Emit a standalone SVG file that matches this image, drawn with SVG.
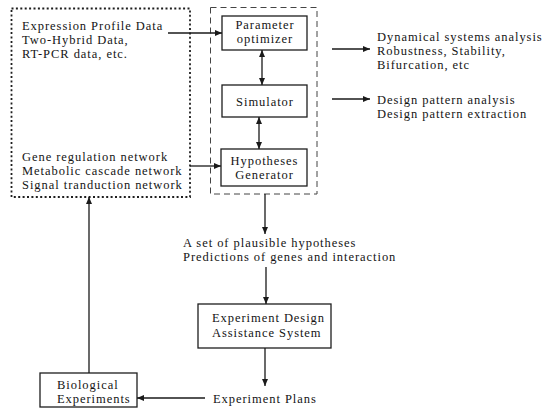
<svg xmlns="http://www.w3.org/2000/svg" width="547" height="409" viewBox="0 0 547 409">
<defs>
<marker id="ah" markerWidth="8" markerHeight="6" refX="7" refY="3" orient="auto-start-reverse" markerUnits="userSpaceOnUse">
<path d="M0,0 L7,3 L0,6 z" fill="#1a1a1a"/>
</marker>
<style>
text{font-family:"Liberation Serif","Times New Roman",serif;font-size:12.5px;letter-spacing:0.95px;fill:#141414}
.box{fill:#fff;stroke:#1e1e1e;stroke-width:1.3}
.dot{fill:none;stroke:#1e1e1e;stroke-width:1.8;stroke-dasharray:2 2.4}
.dash{fill:none;stroke:#444;stroke-width:1;stroke-dasharray:6 4}
.ln{fill:none;stroke:#1a1a1a;stroke-width:1.3;marker-end:url(#ah)}
.dbl{marker-start:url(#ah)}
.c{text-anchor:middle}
</style>
</defs>
<rect width="547" height="409" fill="#fff"/>

<g id="data-box">
<rect class="dot" x="11.5" y="8.5" width="178.5" height="188.5"/>
<text x="22" y="30">Expression Profile Data</text>
<text x="22" y="44">Two-Hybrid Data,</text>
<text x="22" y="58">RT-PCR data, etc.</text>
<text x="22" y="161">Gene regulation network</text>
<text x="22" y="175">Metabolic cascade network</text>
<text x="22" y="189">Signal tranduction network</text>
</g>

<g id="core-box">
<rect class="dash" x="210.5" y="7.5" width="106.5" height="186.5"/>
</g>

<g id="parameter-optimizer">
<rect class="box" x="222" y="16" width="85" height="34"/>
<text class="c" x="265" y="29">Parameter</text>
<text class="c" x="265" y="43">optimizer</text>
</g>

<g id="simulator">
<rect class="box" x="222" y="85" width="85" height="32"/>
<text class="c" x="265" y="106">Simulator</text>
</g>

<g id="hypotheses-generator">
<rect class="box" x="221" y="149" width="86" height="37"/>
<text class="c" x="264.5" y="164.5">Hypotheses</text>
<text class="c" x="264.5" y="178.5">Generator</text>
</g>

<g id="dynamical-analysis">
<text x="377" y="41">Dynamical systems analysis</text>
<text x="377" y="55">Robustness, Stability,</text>
<text x="377" y="69">Bifurcation, etc</text>
</g>

<g id="design-pattern">
<text x="377" y="104">Design pattern analysis</text>
<text x="377" y="118">Design pattern extraction</text>
</g>

<g id="hypotheses-output">
<text x="183" y="247">A set of plausible hypotheses</text>
<text x="183" y="261">Predictions of genes and interaction</text>
</g>

<g id="experiment-design">
<rect class="box" x="198" y="304" width="133" height="44"/>
<text x="212" y="322">Experiment Design</text>
<text x="212" y="337">Assistance System</text>
</g>

<g id="experiment-plans">
<text x="213" y="403">Experiment Plans</text>
</g>

<g id="biological-experiments">
<rect class="box" x="40" y="373" width="97" height="34"/>
<text x="57" y="389">Biological</text>
<text x="57" y="403">Experiments</text>
</g>

<g id="connectors">
<path class="ln" d="M168,33 H222"/>
<path class="ln" d="M190,166 H221"/>
<path class="ln dbl" d="M262,50 V85"/>
<path class="ln dbl" d="M259,117 V149"/>
<path class="ln" d="M332,49 H370"/>
<path class="ln" d="M332,99 H370"/>
<path class="ln" d="M265,194 V234"/>
<path class="ln" d="M266,267 V304"/>
<path class="ln" d="M265,348 V386"/>
<path class="ln" d="M205,398 H137"/>
<path class="ln" d="M89,373 V197"/>
</g>
</svg>
